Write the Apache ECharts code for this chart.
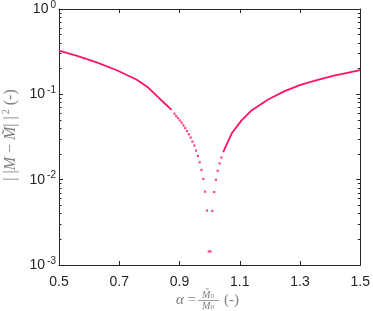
<!DOCTYPE html>
<html>
<head>
<meta charset="utf-8">
<script src="https://cdn.jsdelivr.net/npm/echarts@6/dist/echarts.min.js"></script>
<style>
  html, body { margin: 0; padding: 0; background: #fff; }
  #chart { width: 373px; height: 311px; }
</style>
</head>
<body>
<div id="chart"></div>
<script>
// smooth branches
var alphaLeft = [0.5, 0.56, 0.625, 0.69, 0.757, 0.796, 0.836, 0.851, 0.874];
var errLeft   = [0.325, 0.283, 0.237, 0.193, 0.149, 0.120, 0.0881, 0.0781, 0.0656];
var alphaRight = [1.045, 1.073, 1.106, 1.139, 1.194, 1.249, 1.304, 1.359, 1.413, 1.5];
var errRight   = [0.021, 0.0347, 0.0495, 0.0647, 0.0870, 0.109, 0.130, 0.148, 0.166, 0.192];

// separate dots near the minimum
var alphaDip = [0.883, 0.889, 0.895, 0.901, 0.907, 0.913, 0.919, 0.925, 0.931, 0.937,
                0.943, 0.949, 0.955, 0.961, 0.967, 0.973, 0.979, 0.985, 0.991, 0.997,
                1.003, 1.009, 1.015, 1.021, 1.027, 1.033, 1.039];
var errDip   = [0.0593, 0.0556, 0.0526, 0.0495, 0.0466, 0.0433, 0.0403, 0.0372, 0.0340, 0.0311,
                0.0279, 0.0251, 0.0219, 0.0190, 0.0160, 0.0130, 0.0102, 0.00723, 0.00434, 0.00144,
                0.00144, 0.00430, 0.00716, 0.00997, 0.0127, 0.0155, 0.0182];

var xTicks = [0.5, 0.7, 0.9, 1.1, 1.3, 1.5];
// minor log ticks, as exponents (2..9 in each decade)
var yMinorExp = [];
[-3, -2, -1].forEach(function (d) {
  for (var k = 2; k <= 9; k++) yMinorExp.push(d + Math.log10(k));
});

function pairs(xs, ys) {
  return xs.map(function (x, i) { return [x, ys[i]]; });
}

var ink = '#262626';
var nameInk = '#808080';
var red = '#ff1464';

var chart = echarts.init(document.getElementById('chart'));

function xAx(pos, labels) {
  return {
    type: 'value', min: 0.5, max: 1.5, position: pos,
    axisLine: { show: true, onZero: false, lineStyle: { color: ink, width: 1 } },
    axisTick: { show: true, inside: true, length: 4, customValues: xTicks, lineStyle: { color: ink } },
    axisLabel: {
      show: labels, customValues: xTicks, margin: 10,
      color: ink, fontFamily: 'Liberation Sans', fontSize: 14,
      formatter: function (v) { return v.toFixed(1); }
    },
    splitLine: { show: false }
  };
}
function yMajor(pos, labels) {
  var a = {
    type: 'log', logBase: 10, min: 0.001, max: 1, position: pos,
    axisLine: { show: true, onZero: false, lineStyle: { color: ink, width: 1 } },
    axisTick: { show: true, inside: true, length: 4, lineStyle: { color: ink } },
    axisLabel: { show: false },
    splitLine: { show: false }
  };
  if (labels) {
    a.axisLabel = {
      show: true, margin: 3, color: ink,
      formatter: function (v) {
        return '{b|10}{s|' + Math.round(Math.log10(v)) + '}';
      },
      rich: {
        b: { fontFamily: 'Liberation Sans', fontSize: 14, color: ink },
        s: { fontFamily: 'Liberation Sans', fontSize: 10, color: ink, verticalAlign: 'top', padding: [0, 0, 8, 2] }
      }
    };
  }
  return a;
}
function yMinor(pos) {
  return {
    type: 'value', min: -3, max: 0, position: pos,
    axisLine: { show: false },
    axisTick: { show: true, inside: true, length: 2.5, customValues: yMinorExp, lineStyle: { color: ink } },
    axisLabel: { show: false },
    splitLine: { show: false }
  };
}

var option = {
  animation: false,
  grid: { left: 59, right: 10, top: 8, bottom: 46 },
  xAxis: [xAx('bottom', true), xAx('top', false)],
  yAxis: [yMajor('left', true), yMajor('right', false), yMinor('left'), yMinor('right')],
  series: [
    { type: 'line', data: pairs(alphaLeft, errLeft), showSymbol: false,
      lineStyle: { color: red, width: 1.8 } },
    { type: 'line', data: pairs(alphaRight, errRight), showSymbol: false,
      lineStyle: { color: red, width: 1.8 } },
    { type: 'scatter', data: pairs(alphaDip, errDip), symbol: 'rect', symbolSize: 2.2,
      itemStyle: { color: red } }
  ],
  graphic: [
    { type: 'text', x: 11, y: 135, rotation: Math.PI / 2,
      style: {
        text: '{n|| |}{i|M}{n| − }{i|M\u0303}{n|| |}{s|2}{n| (-)}',
        align: 'center', verticalAlign: 'middle',
        rich: {
          n: { fontFamily: 'Liberation Serif', fontSize: 16, fill: nameInk },
          i: { fontFamily: 'Liberation Serif', fontStyle: 'italic', fontSize: 16, fill: nameInk },
          s: { fontFamily: 'Liberation Serif', fontSize: 10, fill: nameInk, verticalAlign: 'top', padding: [0, 0, 10, 2] }
        }
      } },
    { type: 'text', x: 176, y: 300,
      style: { text: '{i|α} =', fontFamily: 'Liberation Serif', fontSize: 15, fill: nameInk,
        verticalAlign: 'middle',
        rich: { i: { fontFamily: 'Liberation Serif', fontStyle: 'italic', fontSize: 15, fill: nameInk } } } },
    { type: 'text', x: 208, y: 295,
      style: { text: '{i|M\u0303}{s|0}', align: 'center', verticalAlign: 'middle',
        rich: {
          i: { fontFamily: 'Liberation Serif', fontStyle: 'italic', fontSize: 10, fill: nameInk },
          s: { fontFamily: 'Liberation Serif', fontSize: 7, fill: nameInk, verticalAlign: 'bottom' }
        } } },
    { type: 'line', shape: { x1: 198, y1: 300.5, x2: 219, y2: 300.5 },
      style: { stroke: nameInk, lineWidth: 0.8 } },
    { type: 'text', x: 208, y: 306,
      style: { text: '{i|M}{s|0}', align: 'center', verticalAlign: 'middle',
        rich: {
          i: { fontFamily: 'Liberation Serif', fontStyle: 'italic', fontSize: 10, fill: nameInk },
          s: { fontFamily: 'Liberation Serif', fontSize: 7, fill: nameInk, verticalAlign: 'bottom' }
        } } },
    { type: 'text', x: 224, y: 300,
      style: { text: '(-)', fontFamily: 'Liberation Serif', fontSize: 15, fill: nameInk, verticalAlign: 'middle' } }
  ]
};

chart.setOption(option);
</script>
</body>
</html>
